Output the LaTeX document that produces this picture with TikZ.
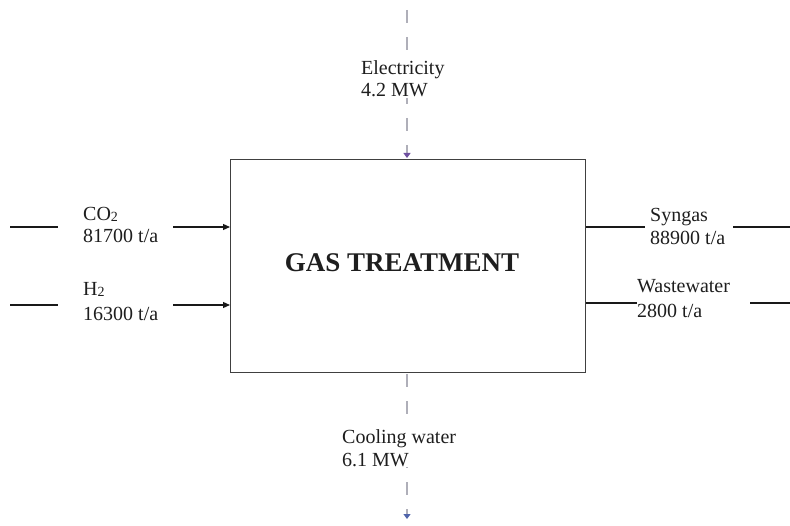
\documentclass[tikz,border=0pt]{standalone}
\usepackage{fontspec}
\setmainfont{Liberation Serif}
\usetikzlibrary{arrows.meta}
\definecolor{txt}{RGB}{30,30,30}
\definecolor{dashgray}{RGB}{175,175,185}
\definecolor{tippurple}{RGB}{110,80,160}
\definecolor{tipblue}{RGB}{80,100,170}
\newcommand{\subtwo}{\raisebox{-1bp}{\fontsize{14bp}{14bp}\selectfont 2}}
\begin{document}
\begin{tikzpicture}[x=1bp,y=-1bp,
  lbl/.style={anchor=base west,inner sep=1bp,text=txt,font=\fontsize{20bp}{22bp}\selectfont},
  lblw/.style={lbl,fill=white},
  flow/.style={draw=black!90,line width=1.2bp},
  flowarr/.style={flow,-{Triangle[length=7bp,width=6bp]}},
  energy/.style={draw=dashgray,line width=1.4bp,dash pattern=on 13bp off 14bp,dash phase=17bp},
  boxst/.style={draw=black!75,line width=1.1bp,fill=white}]
\useasboundingbox (0,0) rectangle (790,526);
% main box
\node[boxst,minimum width=355bp,minimum height=213bp,inner sep=0,anchor=north west] (box) at (230,159) {};
\node[text=txt,font=\bfseries\fontsize{27bp}{29bp}\selectfont] (title) at (402,263) {GAS TREATMENT};
% electricity
\coordinate (elecTop) at (407,0);
\coordinate (elecEnd) at (407,158);
\draw[energy,-{Triangle[length=5bp,width=7bp,color=tippurple]}] (elecTop) -- (elecEnd);
\node[lblw] (elecA) at (360,75) {Electricity};
\node[lblw] (elecB) at (360,97) {4.2 MW};
% cooling water
\coordinate (coolStart) at (407,373);
\coordinate (coolEnd) at (407,519);
\draw[energy,dash phase=26bp,-{Triangle[length=5bp,width=7bp,color=tipblue]}] (coolStart) -- (coolEnd);
\node[lblw] (coolA) at (341,443) {Cooling water};
\node[lblw] (coolB) at (341,466) {6.1 MW};
% CO2
\coordinate (co2L1) at (10,227);
\coordinate (co2L2) at (58,227);
\coordinate (co2R) at (173,227);
\draw[flow] (co2L1) -- (co2L2);
\draw[flowarr] (co2R) -- (box.west |- co2R);
\node[lbl] (co2A) at (82,221) {CO\subtwo};
\node[lbl] (co2B) at (82,243) {81700 t/a};
% H2
\coordinate (h2L1) at (10,305);
\coordinate (h2L2) at (58,305);
\coordinate (h2R) at (173,305);
\draw[flow] (h2L1) -- (h2L2);
\draw[flowarr] (h2R) -- (box.west |- h2R);
\node[lbl] (h2A) at (82,296) {H\subtwo};
\node[lbl] (h2B) at (82,320) {16300 t/a};
% Syngas
\coordinate (synL) at (645,227);
\coordinate (synR1) at (733,227);
\coordinate (synR2) at (790,227);
\draw[flow] (box.east |- synL) -- (synL);
\draw[flow] (synR1) -- (synR2);
\node[lbl] (synA) at (649,222) {Syngas};
\node[lbl] (synB) at (649,245) {88900 t/a};
% Wastewater
\coordinate (wwL) at (637,303);
\coordinate (wwR1) at (750,303);
\coordinate (wwR2) at (790,303);
\draw[flow] (box.east |- wwL) -- (wwL);
\draw[flow] (wwR1) -- (wwR2);
\node[lbl] (wwA) at (636,293) {Wastewater};
\node[lbl] (wwB) at (636,317) {2800 t/a};
\end{tikzpicture}
\end{document}
